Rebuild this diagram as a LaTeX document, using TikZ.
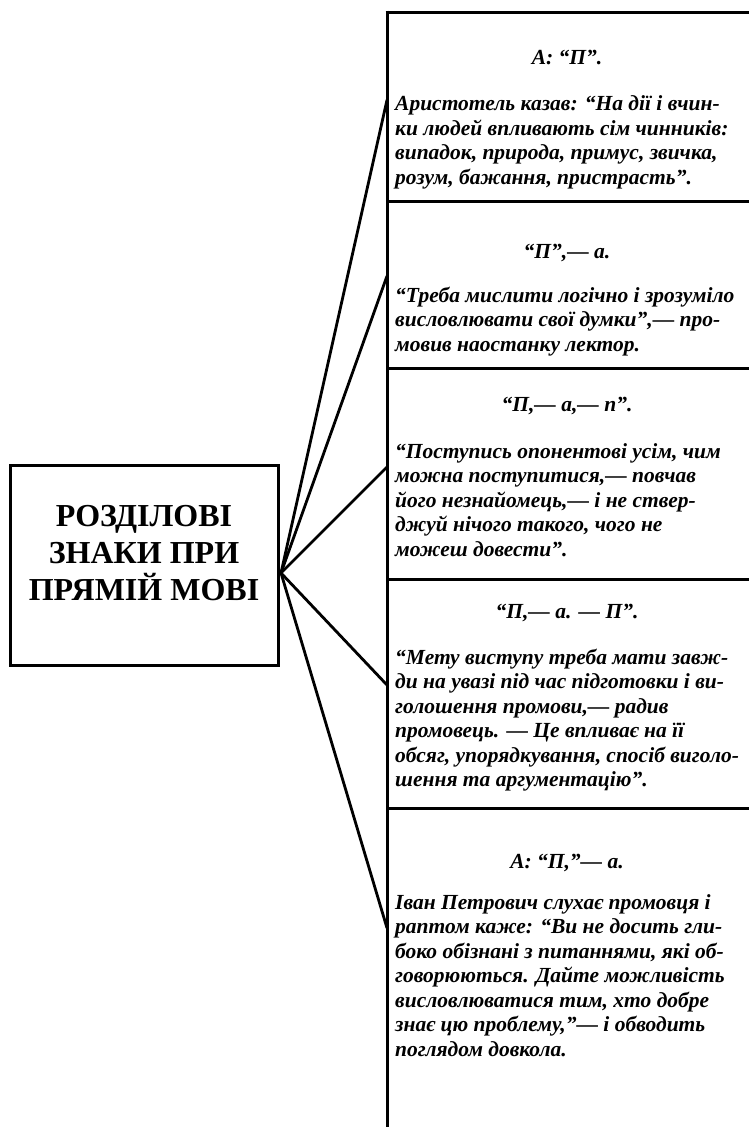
\documentclass[tikz,border=0pt]{standalone}
\usepackage{fontspec}
\setmainfont{Liberation Serif}
\begin{document}
\begin{tikzpicture}[x=1pt,y=-1pt]
\tikzset{
  frame/.style={line width=3pt},
  conn/.style={line width=2.8pt, line cap=round},
  head/.style={font=\fontsize{21.5}{24.5}\selectfont\bfseries\itshape, anchor=base, inner sep=0pt},
  body/.style={font=\fontsize{21.5}{24.5}\selectfont\bfseries\itshape, align=left, anchor=base west, inner sep=0pt},
  maintitle/.style={font=\fontsize{32}{37}\selectfont\bfseries, align=center, inner sep=0pt},
}
\useasboundingbox (0,0) rectangle (749,1127);
\fill[white] (0,0) rectangle (749,1127);

% main box
\node[draw, frame, minimum width=268pt, minimum height=200pt, inner sep=0pt] (main) at (144,565) {};
\node[maintitle] (maintext) at (144,553) {РОЗДІЛОВІ\\ЗНАКИ ПРИ\\ПРЯМІЙ МОВІ};

% right column frame
\coordinate (ctop) at (387,10.5);
\coordinate (cbot) at (387,1127);
\draw[frame] (ctop) -- (cbot);
\coordinate (s0) at (385.5,12);   \coordinate (r0) at (749,12);
\coordinate (s1) at (387,201);  \coordinate (r1) at (749,201);
\coordinate (s2) at (387,368);  \coordinate (r2) at (749,368);
\coordinate (s3) at (387,579);  \coordinate (r3) at (749,579);
\coordinate (s4) at (387,808);  \coordinate (r4) at (749,808);
\foreach \i in {0,...,4} \draw[frame] (s\i) -- (r\i);

% connectors
\coordinate (hub) at (281,573);
\coordinate (e1) at (387,100);
\coordinate (e2) at (387,276);
\coordinate (e3) at (387,467);
\coordinate (e4) at (387,685);
\coordinate (e5) at (387,928);
\foreach \i in {1,...,5} \draw[conn] (hub) -- (e\i);

% box 1
\node[head] (h1) at (567,64) {А: “П”.};
\node[body] (b1) at (395,184) {Аристотель казав: “На дії і вчин-\\ки людей впливають сім чинників:\\випадок, природа, примус, звичка,\\розум, бажання, пристрасть”.};

% box 2
\node[head] (h2) at (567,258) {“П”,— а.};
\node[body] (b2) at (395,351) {“Треба мислити логічно і зрозуміло\\висловлювати свої думки”,— про-\\мовив наостанку лектор.};

% box 3
\node[head] (h3) at (567,411) {“П,— а,— п”.};
\node[body] (b3) at (395,556) {“Поступись опонентові усім, чим\\можна поступитися,— повчав\\його незнайомець,— і не ствер-\\джуй нічого такого, чого не\\можеш довести”.};

% box 4
\node[head] (h4) at (567,618) {“П,— а. — П”.};
\node[body] (b4) at (395,786.5) {“Мету виступу треба мати завж-\\ди на увазі під час підготовки і ви-\\голошення промови,— радив\\промовець. — Це впливає на її\\обсяг, упорядкування, спосіб виголо-\\шення та аргументацію”.};

% box 5
\node[head] (h5) at (567,868) {А: “П,”— а.};
\node[body] (b5) at (395,1056) {Іван Петрович слухає промовця і\\раптом каже: “Ви не досить гли-\\боко обізнані з питаннями, які об-\\говорюються. Дайте можливість\\висловлюватися тим, хто добре\\знає цю проблему,”— і обводить\\поглядом довкола.};
\end{tikzpicture}
\end{document}
